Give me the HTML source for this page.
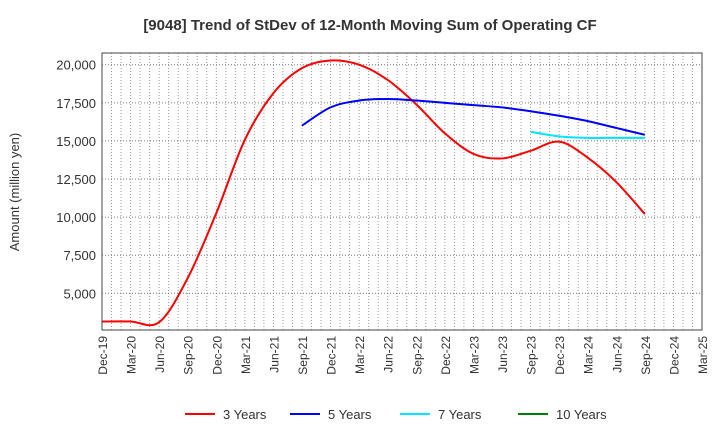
<!DOCTYPE html>
<html><head><meta charset="utf-8"><style>
body{margin:0;background:#fff;font-family:"Liberation Sans",sans-serif}
</style></head><body>
<svg width="720" height="440" xmlns="http://www.w3.org/2000/svg">
<g id="grid"></g>
<g id="series"></g>
<g id="axes"></g>
<text x="370" y="30" text-anchor="middle" font-size="15" font-weight="bold" fill="#333">[9048]  Trend of StDev of 12-Month Moving Sum of Operating CF</text>
<text transform="translate(19,192) rotate(-90)" text-anchor="middle" font-size="13" fill="#333">Amount (million yen)</text>
<g id="legend"></g>
</svg>
<script>
const xLabels=["Dec-19","Mar-20","Jun-20","Sep-20","Dec-20","Mar-21","Jun-21","Sep-21","Dec-21","Mar-22","Jun-22","Sep-22","Dec-22","Mar-23","Jun-23","Sep-23","Dec-23","Mar-24","Jun-24","Sep-24","Dec-24","Mar-25"];
const yTicks=[5000,7500,10000,12500,15000,17500,20000];
const y3=[3150,3150,3100,6000,10260,15070,18140,19780,20280,20000,19000,17400,15500,14150,13850,14350,14950,13900,12300,10200];
const y5=[null,null,null,null,null,null,null,16000,17200,17650,17750,17650,17500,17350,17200,16950,16650,16300,15850,15400];
const y7=[null,null,null,null,null,null,null,null,null,null,null,null,null,null,null,15600,15300,15200,15200,15200];
const y10=[];
const L=102,R=702,T=53,B=330,yMin=2590,yMax=20770;
const X=i=>L+i*(R-L)/(xLabels.length-1);
const Y=v=>B-(v-yMin)/(yMax-yMin)*(B-T);
const NS="http://www.w3.org/2000/svg";
function mk(tag,attrs,parent){const e=document.createElementNS(NS,tag);for(const k in attrs)e.setAttribute(k,attrs[k]);parent.appendChild(e);return e;}
const grid=document.getElementById('grid'),axes=document.getElementById('axes'),series=document.getElementById('series'),legend=document.getElementById('legend');
for(let m=1;m<(xLabels.length-1)*3;m++){const x=L+m*(R-L)/((xLabels.length-1)*3);
 const g=mk('line',{x1:x,x2:x,y1:T,y2:B,stroke:'#999','stroke-dasharray':'1,2','stroke-width':1},grid);
 }
yTicks.forEach(v=>{const g=mk('line',{x1:L,x2:R,y1:Y(v),y2:Y(v),stroke:'#777','stroke-dasharray':'1,2'},grid);
 
 const t=mk('text',{x:L-6,y:Y(v)+5,'text-anchor':'end','font-size':13,fill:'#333'},axes);t.textContent=v.toLocaleString('en-US');
 });
const fr=mk('rect',{x:L,y:T,width:R-L,height:B-T,fill:'none',stroke:'#444'},axes);

xLabels.forEach((s,i)=>{const t=mk('text',{transform:`translate(${X(i)+5},${B+6}) rotate(-90)`,'text-anchor':'end','font-size':12,fill:'#333'},axes);t.textContent=s;
 });
function path(vals){const p=[];vals.forEach((v,i)=>{if(v!=null)p.push([X(i),Y(v)]);});if(p.length<2)return '';
 let d=`M${p[0][0]},${p[0][1]}`;for(let i=0;i<p.length-1;i++){const p0=p[i-1]||p[i],p1=p[i],p2=p[i+1],p3=p[i+2]||p2;
 d+=` C${p1[0]+(p2[0]-p0[0])/6},${p1[1]+(p2[1]-p0[1])/6} ${p2[0]-(p3[0]-p1[0])/6},${p2[1]-(p3[1]-p1[1])/6} ${p2[0]},${p2[1]}`;}return d;}
const S=[[y3,'#ff0000','3 Years','line-3-years',185],[y5,'#0000ff','5 Years','line-5-years',290],[y7,'#00e5ff','7 Years','line-7-years',400],[y10,'#008000','10 Years','line-10-years',518]];
S.forEach(([v,c,n,id,lx])=>{const d=path(v);if(d){const e=mk('path',{d,fill:'none',stroke:c,'stroke-width':2},series);
 }
 const l=mk('line',{x1:lx,x2:lx+30,y1:414,y2:414,stroke:c,'stroke-width':2},legend);
 
 const t=mk('text',{x:lx+38,y:419,'font-size':13,fill:'#333'},legend);t.textContent=n;
 });
</script>
</body></html>
